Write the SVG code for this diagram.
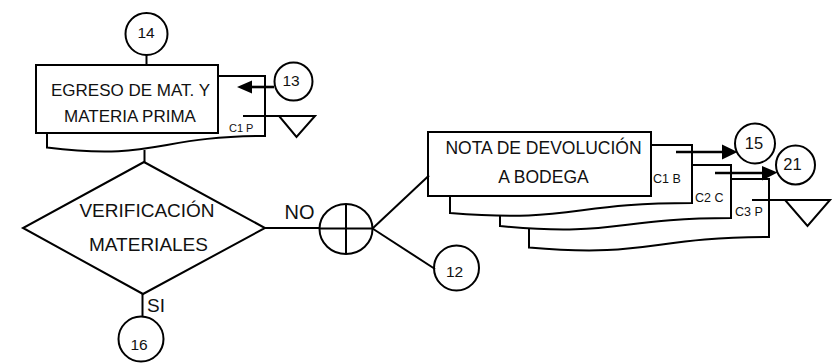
<svg xmlns="http://www.w3.org/2000/svg" width="837" height="363" viewBox="0 0 837 363">
  <style>
    .ln { fill: none; stroke: #000; stroke-width: 2; }
    .shape { fill: #fff; stroke: #000; stroke-width: 2; }
    .arr { fill: none; stroke: #000; stroke-width: 2.6; }
    .head { fill: #000; stroke: none; }
    text { font-family: "Liberation Sans", Arial, sans-serif; fill: #111; text-anchor: middle; }
    .big { font-size: 17px; }
    .dia { font-size: 19px; }
    .lbl { font-size: 20px; }
    .num { font-size: 15.5px; }
    .code { font-size: 12.5px; text-anchor: start; }
  </style>
  <rect width="837" height="363" fill="#fff"/>

  <!-- start connector 14 -->
  <g id="n14">
    <circle class="shape" cx="146.5" cy="34" r="21"/>
    <text class="num" x="146" y="38">14</text>
  </g>

  <!-- document stack: egreso -->
  <g id="egreso">
    <path class="shape" d="M47,76 H265 V136 C156,136 156,161 47,147.5 Z"/>
    <rect class="shape" x="36" y="65" width="182" height="68"/>
    <text class="big" x="130.5" y="96">EGRESO DE MAT. Y</text>
    <text class="big" x="130" y="121.5">MATERIA PRIMA</text>
    <text class="code" x="229" y="131.5" style="font-size:11px">C1 P</text>
  </g>

  <g id="n13">
    <circle class="shape" cx="293.5" cy="81.5" r="19"/>
    <text class="num" x="291" y="86">13</text>
  </g>

  <!-- inspection / archive 1 -->
  <g id="archivo1">
    <path class="ln" d="M243,116 H315"/>
    <polygon class="shape" points="279,116 315,116 296.5,137"/>
  </g>

  <!-- decision -->
  <g id="verificacion">
    <polygon class="shape" points="144,162 265,228 143,294 23,228"/>
    <text class="dia" x="147" y="216.5">VERIFICACIÓN</text>
    <text class="dia" x="148.5" y="250.5">MATERIALES</text>
  </g>
  <text class="lbl" x="299.5" y="218.5">NO</text>
  <text class="lbl" x="156" y="311.5" style="font-size:19px">SI</text>

  <g id="n16">
    <circle class="shape" cx="141" cy="339" r="22.5"/>
    <text class="num" x="139" y="349.5">16</text>
  </g>

  <!-- split -->
  <g id="division">
    <ellipse class="shape" cx="346" cy="229" rx="26.5" ry="25"/>
    <path class="ln" d="M346,204 V254 M319.5,228.5 H372.5"/>
  </g>

  <g id="n12">
    <circle class="shape" cx="456.5" cy="268" r="22.5"/>
    <text class="num" x="454.5" y="276.5">12</text>
  </g>

  <!-- document stack: nota de devolucion -->
  <g id="nota">
    <path class="shape" d="M529,179 H769 V237 C649,237 649,258 529,247.5 Z"/>
    <path class="shape" d="M500,165 H731 V218 C615,218 615,237 500,226 Z"/>
    <path class="shape" d="M450,145 H692 V203 C571,203 571,223 450,213 Z"/>
    <rect class="shape" x="428" y="132" width="223" height="64"/>
    <text class="big" x="543.5" y="153.5" style="font-size:17.5px">NOTA DE DEVOLUCIÓN</text>
    <text class="big" x="543.5" y="182.5" style="font-size:17.5px">A BODEGA</text>
    <text class="code" x="653" y="182.5">C1 B</text>
    <text class="code" x="695" y="201.5">C2 C</text>
    <text class="code" x="735" y="216">C3 P</text>
  </g>

  <g id="n15">
    <circle class="shape" cx="755" cy="143.5" r="20"/>
    <text class="num" x="754" y="148.5" style="font-size:16.5px">15</text>
  </g>
  <g id="n21">
    <circle class="shape" cx="795.5" cy="165" r="19.5"/>
    <text class="num" x="792.5" y="169.5" style="font-size:16.5px">21</text>
  </g>

  <!-- inspection / archive 2 -->
  <g id="archivo2">
    <path class="ln" d="M752,200 H830"/>
    <polygon class="shape" points="785,200 830,200 807.5,226"/>
  </g>

  <!-- connectors, drawn last so arrows sit over the document shapes -->
  <g id="connectors">
    <path class="ln" d="M146.5,55 V65"/>
    <path class="ln" d="M144.5,150 V162"/>
    <path class="ln" d="M265,228 H320"/>
    <path class="ln" d="M142.5,294 V317"/>
    <path class="ln" d="M372.5,228.5 L429,175.5"/>
    <path class="ln" d="M372.5,228.5 L435,269"/>
    <path class="arr" d="M274,87 H251"/>
    <polygon class="head" points="237,87 252,80.5 252,93.5"/>
    <path class="arr" d="M676,152 H723"/>
    <polygon class="head" points="737.5,152 722,144.5 722,159.5"/>
    <path class="arr" d="M715,173 H763"/>
    <polygon class="head" points="777.5,172.5 762,166 762,180.5"/>
  </g>
</svg>
